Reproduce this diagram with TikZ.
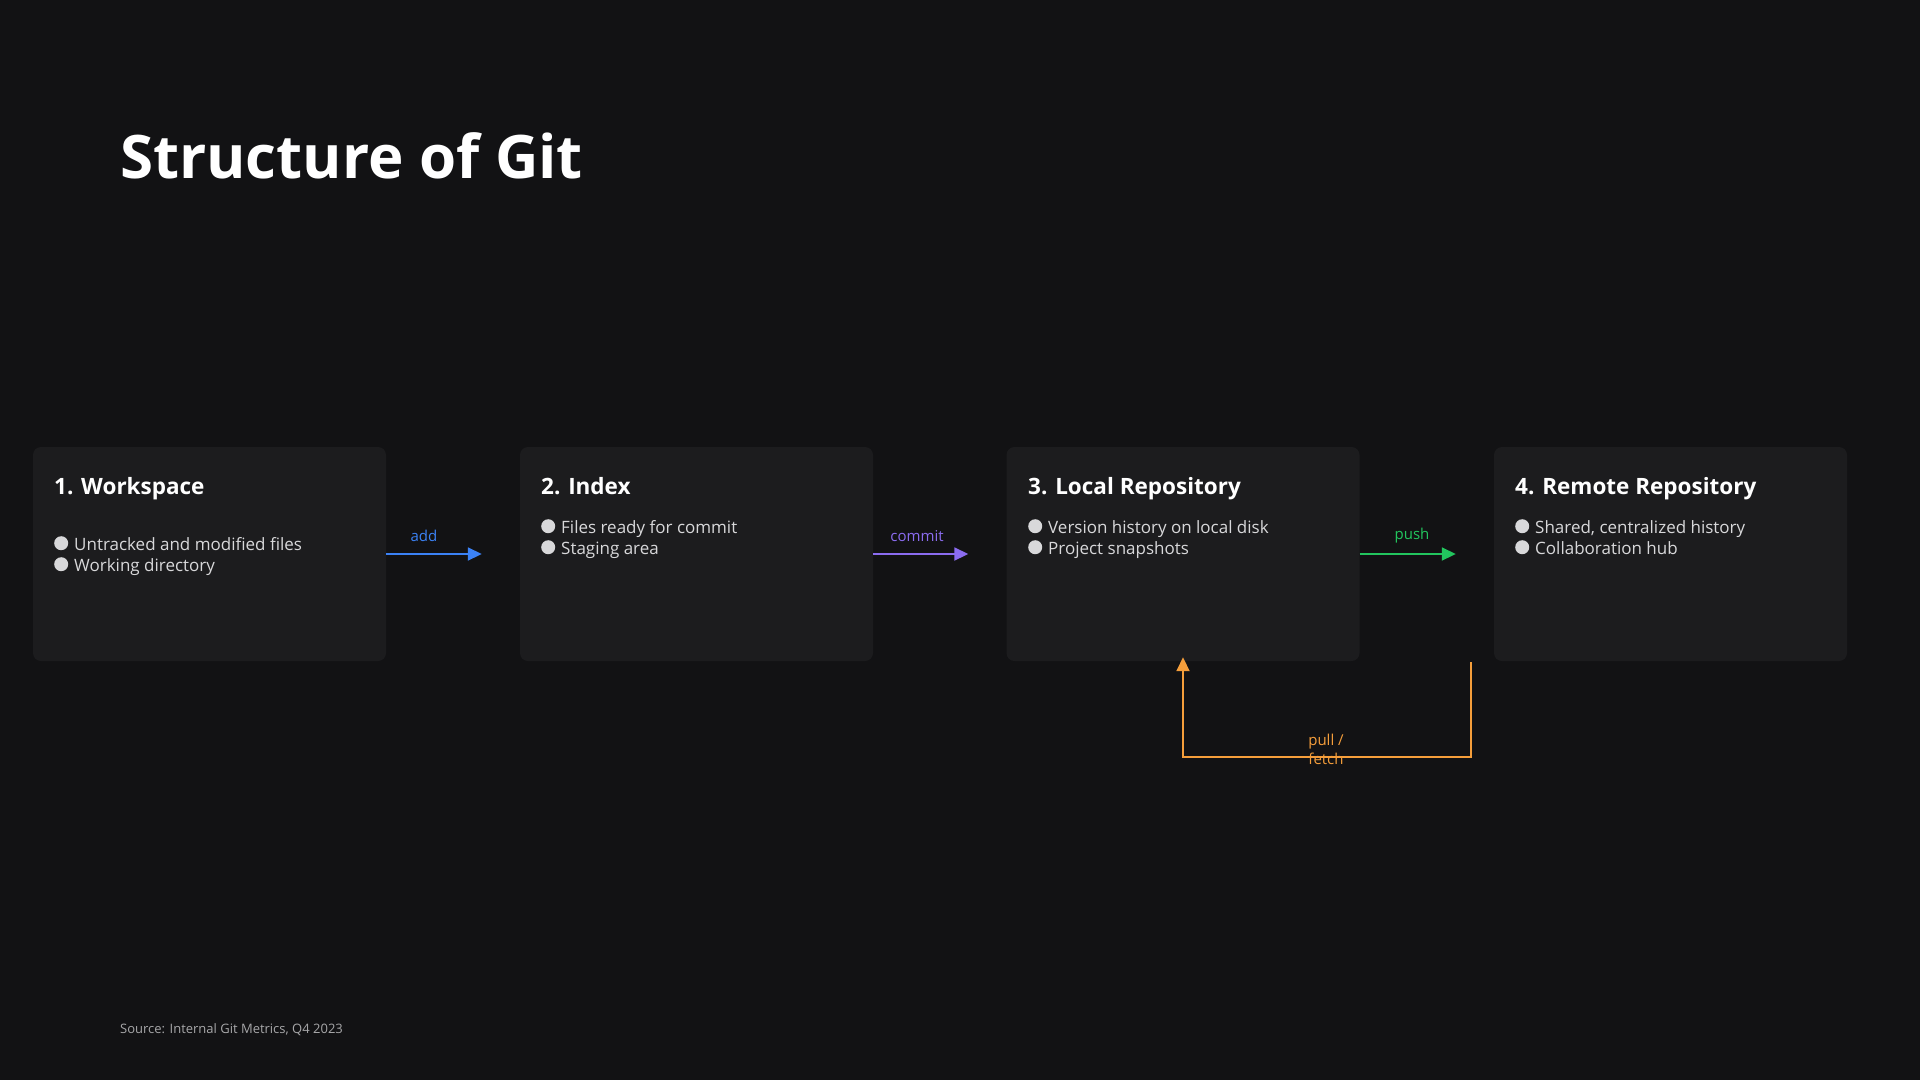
\documentclass[tikz,border=0pt]{standalone}
\usepackage{fontspec}
\setmainfont{Open Sans}
\usepackage{xcolor}
\usetikzlibrary{positioning,arrows.meta}
\definecolor{bgcol}{HTML}{121214}
\definecolor{boxcol}{HTML}{1C1C1E}
\definecolor{txtcol}{HTML}{D8D8DA}
\definecolor{addcol}{HTML}{3B82F6}
\definecolor{comcol}{HTML}{8B6CF0}
\definecolor{pushcol}{HTML}{22C55E}
\definecolor{pullcol}{HTML}{F59E3B}
\tikzset{
  stage/.style={fill=boxcol, rounded corners=8pt, minimum width=353pt, minimum height=214pt, inner sep=0pt},
  stagetitle/.style={anchor=base west, text=white, font=\fontsize{22.5}{28}\selectfont\bfseries, inner sep=0pt},
  items/.style={anchor=north west, text=txtcol, align=left, font=\fontsize{17}{21}\selectfont, inner sep=0pt},
  flow/.style={line width=1.8pt, -{Triangle[length=14pt,width=13pt]}, shorten >=38pt},
  flowlabel/.style={font=\fontsize{15}{18}\selectfont, inner sep=0pt}
}
\newcommand{\dotitem}{\textcolor{txtcol}{\raisebox{0.5pt}{\tikz\fill (0,0) circle (7pt);}}\hspace{6pt}}
\begin{document}
\begin{tikzpicture}[x=1pt, y=-1pt]
      \fill[bgcol] (0,0) rectangle (1920,1080);
      \node[anchor=west, text=white, font=\fontsize{60}{66}\selectfont\bfseries, inner sep=0pt] (title) at (120,156) {Structure of Git};

      \node[stage] (ws) at (209.5,554)  {};
      \node[stage] (ix) at (696.5,554)  {};
      \node[stage] (lr) at (1183,554)   {};
      \node[stage] (rr) at (1670.5,554) {};

      \node[stagetitle] (wst) at (54,494)   {1. Workspace};
      \node[stagetitle] (ixt) at (541,494)  {2. Index};
      \node[stagetitle] (lrt) at (1028,494) {3. Local Repository};
      \node[stagetitle] (rrt) at (1515,494) {4. Remote Repository};

      \node[items] (wsi) at (54,536)   {\dotitem Untracked and modified files\\ \dotitem Working directory};
      \node[items] (ixi) at (541,519)  {\dotitem Files ready for commit\\ \dotitem Staging area};
      \node[items] (lri) at (1028,519) {\dotitem Version history on local disk\\ \dotitem Project snapshots};
      \node[items] (rri) at (1515,519) {\dotitem Shared, centralized history\\ \dotitem Collaboration hub};

      \draw[flow, addcol]  (ws.east) -- (ix.west);
      \draw[flow, comcol]  (lr.west -| ix.east) -- (lr.west);
      \draw[flow, pushcol] (lr.east) -- (rr.west);

      \node[flowlabel, text=addcol]  (addl)  at (424,536)  {add};
      \node[flowlabel, text=comcol]  (coml)  at (917,536)  {commit};
      \node[flowlabel, text=pushcol] (pushl) at (1412,536) {push};

      \coordinate (pfs) at (1471,662);
      \coordinate (pfb) at (1471,757);
      \draw[line width=1.8pt, pullcol, -{Triangle[length=14pt,width=13pt]}]
        (pfs) -- (pfb) -| ([yshift=4pt]lr.south);
      \node[flowlabel, text=pullcol, align=center, font=\fontsize{15}{19}\selectfont] (pulll) at (1326,749) {pull /\\ fetch};

      \node[anchor=west, text=txtcol!75!bgcol, font=\fontsize{13}{16}\selectfont, inner sep=0pt] (src) at (120,1030) {Source: Internal Git Metrics, Q4 2023};
\end{tikzpicture}
\end{document}
